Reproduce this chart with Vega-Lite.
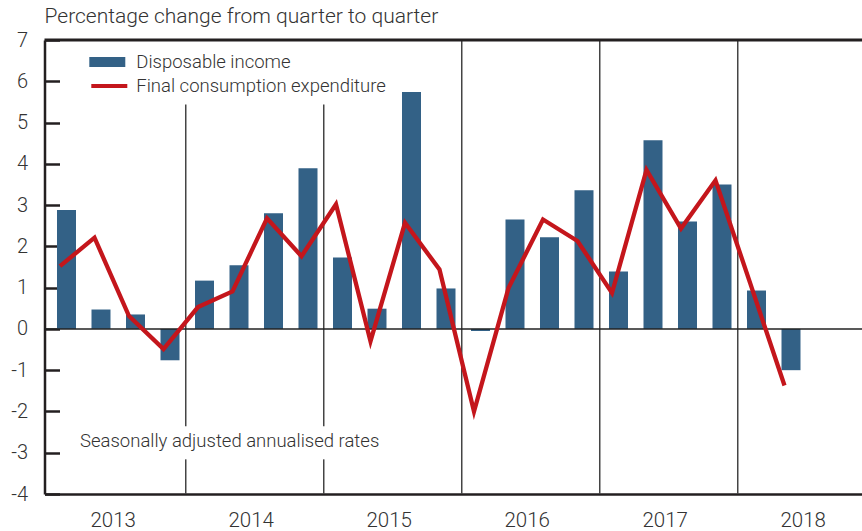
{
  "$schema": "https://vega.github.io/schema/vega-lite/v6.json",
  "width": 817.5,
  "height": 454,
  "autosize": "none",
  "padding": {"left": 44.5, "top": 40, "right": 0, "bottom": 37},
  "background": "white",
  "config": {
    "view": {"stroke": null},
    "font": "Roboto",
    "axis": {"labelFont": "Roboto", "labelFontWeight": 300, "labelColor": "#333333", "grid": false, "title": null},
    "legend": {"labelFont": "Roboto", "labelFontWeight": 300, "labelColor": "#333333"}
  },
  "title": {
    "text": "Percentage change from quarter to quarter",
    "anchor": "start",
    "frame": "group",
    "offset": 3,
    "fontSize": 21,
    "fontWeight": 300,
    "color": "#333333",
    "font": "Roboto"
  },
  "datasets": {
    "quarters": [
      {"quarter": "2013Q1", "t": 2013.125, "income": 2.88, "consumption": 1.52},
      {"quarter": "2013Q2", "t": 2013.375, "income": 0.47, "consumption": 2.21},
      {"quarter": "2013Q3", "t": 2013.625, "income": 0.35, "consumption": 0.31},
      {"quarter": "2013Q4", "t": 2013.875, "income": -0.76, "consumption": -0.49},
      {"quarter": "2014Q1", "t": 2014.125, "income": 1.17, "consumption": 0.53},
      {"quarter": "2014Q2", "t": 2014.375, "income": 1.54, "consumption": 0.91},
      {"quarter": "2014Q3", "t": 2014.625, "income": 2.8, "consumption": 2.68},
      {"quarter": "2014Q4", "t": 2014.875, "income": 3.89, "consumption": 1.76},
      {"quarter": "2015Q1", "t": 2015.125, "income": 1.73, "consumption": 3.02},
      {"quarter": "2015Q2", "t": 2015.375, "income": 0.49, "consumption": -0.3},
      {"quarter": "2015Q3", "t": 2015.625, "income": 5.74, "consumption": 2.57},
      {"quarter": "2015Q4", "t": 2015.875, "income": 0.98, "consumption": 1.44},
      {"quarter": "2016Q1", "t": 2016.125, "income": -0.05, "consumption": -2.0},
      {"quarter": "2016Q2", "t": 2016.375, "income": 2.65, "consumption": 0.99},
      {"quarter": "2016Q3", "t": 2016.625, "income": 2.22, "consumption": 2.65},
      {"quarter": "2016Q4", "t": 2016.875, "income": 3.36, "consumption": 2.13},
      {"quarter": "2017Q1", "t": 2017.125, "income": 1.39, "consumption": 0.87},
      {"quarter": "2017Q2", "t": 2017.375, "income": 4.57, "consumption": 3.85},
      {"quarter": "2017Q3", "t": 2017.625, "income": 2.6, "consumption": 2.43},
      {"quarter": "2017Q4", "t": 2017.875, "income": 3.5, "consumption": 3.6},
      {"quarter": "2018Q1", "t": 2018.125, "income": 0.93, "consumption": 1.12},
      {"quarter": "2018Q2", "t": 2018.375, "income": -1.0, "consumption": -1.37}
    ],
    "separators": [
      {"year": 2014, "top": 5.44, "bottom": -2.36},
      {"year": 2014, "top": -3.16, "bottom": -4},
      {"year": 2015, "top": 5.44, "bottom": -2.36},
      {"year": 2015, "top": -3.16, "bottom": -4},
      {"year": 2016, "top": 7, "bottom": -4},
      {"year": 2017, "top": 7, "bottom": -4},
      {"year": 2018, "top": 7, "bottom": -4}
    ]
  },
  "layer": [
    {
      "data": {"name": "separators"},
      "mark": {"type": "rule", "color": "#444444", "strokeWidth": 1.5, "xOffset": -1.5},
      "encoding": {
        "x": {"field": "year", "type": "quantitative"},
        "y": {"field": "top", "type": "quantitative"},
        "y2": {"field": "bottom"}
      }
    },
    {
      "data": {"name": "quarters"},
      "mark": {"type": "bar", "width": 19},
      "encoding": {
        "x": {
          "field": "t",
          "type": "quantitative",
          "scale": {"domain": [2012.9656, 2018.8895], "nice": false, "zero": false, "padding": 0},
          "axis": {
            "orient": "bottom",
            "values": [2013.46, 2014.46, 2015.46, 2016.46, 2017.46, 2018.46],
            "labelExpr": "floor(datum.value)",
            "ticks": false,
            "domain": true,
            "domainColor": "#231f20",
            "domainWidth": 2.5,
            "labelFontSize": 20.5,
            "labelPadding": 16,
            "labelFlush": false,
            "labelOverlap": false
          }
        },
        "y": {
          "field": "income",
          "type": "quantitative",
          "scale": {"domain": [-4, 7], "nice": false, "padding": 0},
          "axis": {
            "orient": "left",
            "values": [-4, -3, -2, -1, 0, 1, 2, 3, 4, 5, 6, 7],
            "labelExpr": "'' + datum.value",
            "tickSize": -15,
            "tickWidth": 2.5,
            "tickColor": "#231f20",
            "domainColor": "#231f20",
            "domainWidth": 2.5,
            "labelFontSize": 20,
            "labelPadding": 32,
            "labelFlush": false,
            "labelOverlap": false
          }
        },
        "fill": {
          "datum": "Disposable income",
          "scale": {"range": ["#336186"]},
          "legend": {
            "title": null,
            "orient": "none",
            "legendX": 44.8,
            "legendY": 4,
            "symbolType": "M-1,-0.278H1V0.278H-1Z",
            "symbolSize": 1296,
            "symbolStrokeWidth": 0,
            "labelFontSize": 18.5,
            "labelOffset": 11,
            "labelLimit": 500
          }
        }
      }
    },
    {
      "data": {"values": [{}]},
      "mark": {"type": "rule", "color": "#222222", "strokeWidth": 1.5},
      "encoding": {"y": {"datum": 0}}
    },
    {
      "data": {"values": [{}]},
      "mark": {"type": "rule", "color": "#231f20", "strokeWidth": 3},
      "encoding": {"y": {"datum": 7}}
    },
    {
      "data": {"name": "quarters"},
      "mark": {"type": "line", "strokeWidth": 4.3, "xOffset": -6.5, "strokeJoin": "miter"},
      "encoding": {
        "x": {"field": "t", "type": "quantitative"},
        "y": {"field": "consumption", "type": "quantitative"},
        "stroke": {
          "datum": "Final consumption expenditure",
          "scale": {"range": ["#C4161C"]},
          "legend": {
            "title": null,
            "orient": "none",
            "legendX": 44.8,
            "legendY": 26,
            "symbolType": "stroke",
            "symbolSize": 1296,
            "symbolStrokeWidth": 4,
            "labelFontSize": 18.5,
            "labelOffset": 7,
            "labelLimit": 500
          }
        }
      }
    },
    {
      "data": {"values": [{}]},
      "mark": {"type": "text", "align": "left", "baseline": "middle", "fontSize": 18.5, "fontWeight": 300, "color": "#333333", "font": "Roboto"},
      "encoding": {
        "x": {"datum": 2013.223},
        "y": {"datum": -2.71},
        "text": {"value": "Seasonally adjusted annualised rates"}
      }
    }
  ]
}
